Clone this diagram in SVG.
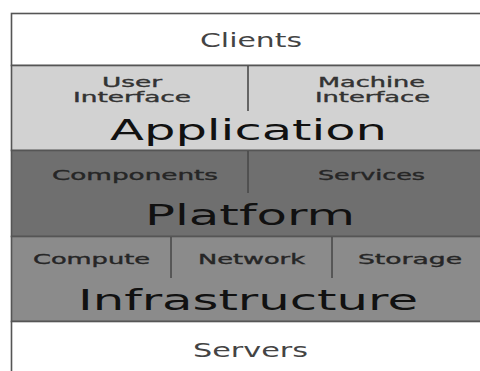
<svg xmlns="http://www.w3.org/2000/svg" width="480" height="371" viewBox="0 0 480 371">
<style>
.t{font-family:"DejaVu Sans","Verdana",sans-serif;}
.band{stroke:#555555;stroke-width:1.6;}
.div{stroke:#4a4a4a;stroke-width:1.6;}
.small{font-size:13.5px;fill:#333333;stroke:#333333;stroke-width:0.35;}
.dk{fill:#262626;stroke:#262626;}
.mid{font-size:19px;fill:#444444;}
.big{font-size:28px;fill:#111111;}
</style>
<rect x="0" y="0" width="480" height="371" fill="#ffffff"/>
<g id="clients">
<rect x="11.5" y="13.5" width="470" height="52" fill="#ffffff" class="band"/>
<text class="t mid" x="200" y="47" textLength="102" lengthAdjust="spacingAndGlyphs">Clients</text>
</g>
<g id="application">
<rect x="11.5" y="65.5" width="470" height="85" fill="#d2d2d2" class="band"/>
<line x1="248" y1="66" x2="248" y2="111" class="div"/>
<text class="t small" x="102" y="87" textLength="60" lengthAdjust="spacingAndGlyphs">User</text>
<text class="t small" x="73" y="102" textLength="118" lengthAdjust="spacingAndGlyphs">Interface</text>
<text class="t small" x="318" y="87" textLength="107" lengthAdjust="spacingAndGlyphs">Machine</text>
<text class="t small" x="315" y="102" textLength="115" lengthAdjust="spacingAndGlyphs">Interface</text>
<text class="t big" x="110" y="140" textLength="277" lengthAdjust="spacingAndGlyphs">Application</text>
</g>
<g id="platform">
<rect x="11.5" y="150.5" width="470" height="86" fill="#6f6f6f" class="band"/>
<line x1="248" y1="151" x2="248" y2="193" class="div"/>
<text class="t small dk" x="52" y="180" textLength="166" lengthAdjust="spacingAndGlyphs">Components</text>
<text class="t small dk" x="318" y="180" textLength="107" lengthAdjust="spacingAndGlyphs">Services</text>
<text class="t big" x="145" y="225" textLength="210" lengthAdjust="spacingAndGlyphs">Platform</text>
</g>
<g id="infrastructure">
<rect x="11.5" y="236.5" width="470" height="85" fill="#8b8b8b" class="band"/>
<line x1="171" y1="237" x2="171" y2="278" class="div"/>
<line x1="332" y1="237" x2="332" y2="278" class="div"/>
<text class="t small dk" x="33" y="264" textLength="117" lengthAdjust="spacingAndGlyphs">Compute</text>
<text class="t small dk" x="198" y="264" textLength="107" lengthAdjust="spacingAndGlyphs">Network</text>
<text class="t small dk" x="358" y="264" textLength="104" lengthAdjust="spacingAndGlyphs">Storage</text>
<text class="t big" x="78" y="310" textLength="340" lengthAdjust="spacingAndGlyphs">Infrastructure</text>
</g>
<g id="servers">
<rect x="11.5" y="321.5" width="470" height="60" fill="#ffffff" class="band"/>
<text class="t mid" x="193" y="357" textLength="115" lengthAdjust="spacingAndGlyphs">Servers</text>
</g>
<g id="connectors"></g>
</svg>
